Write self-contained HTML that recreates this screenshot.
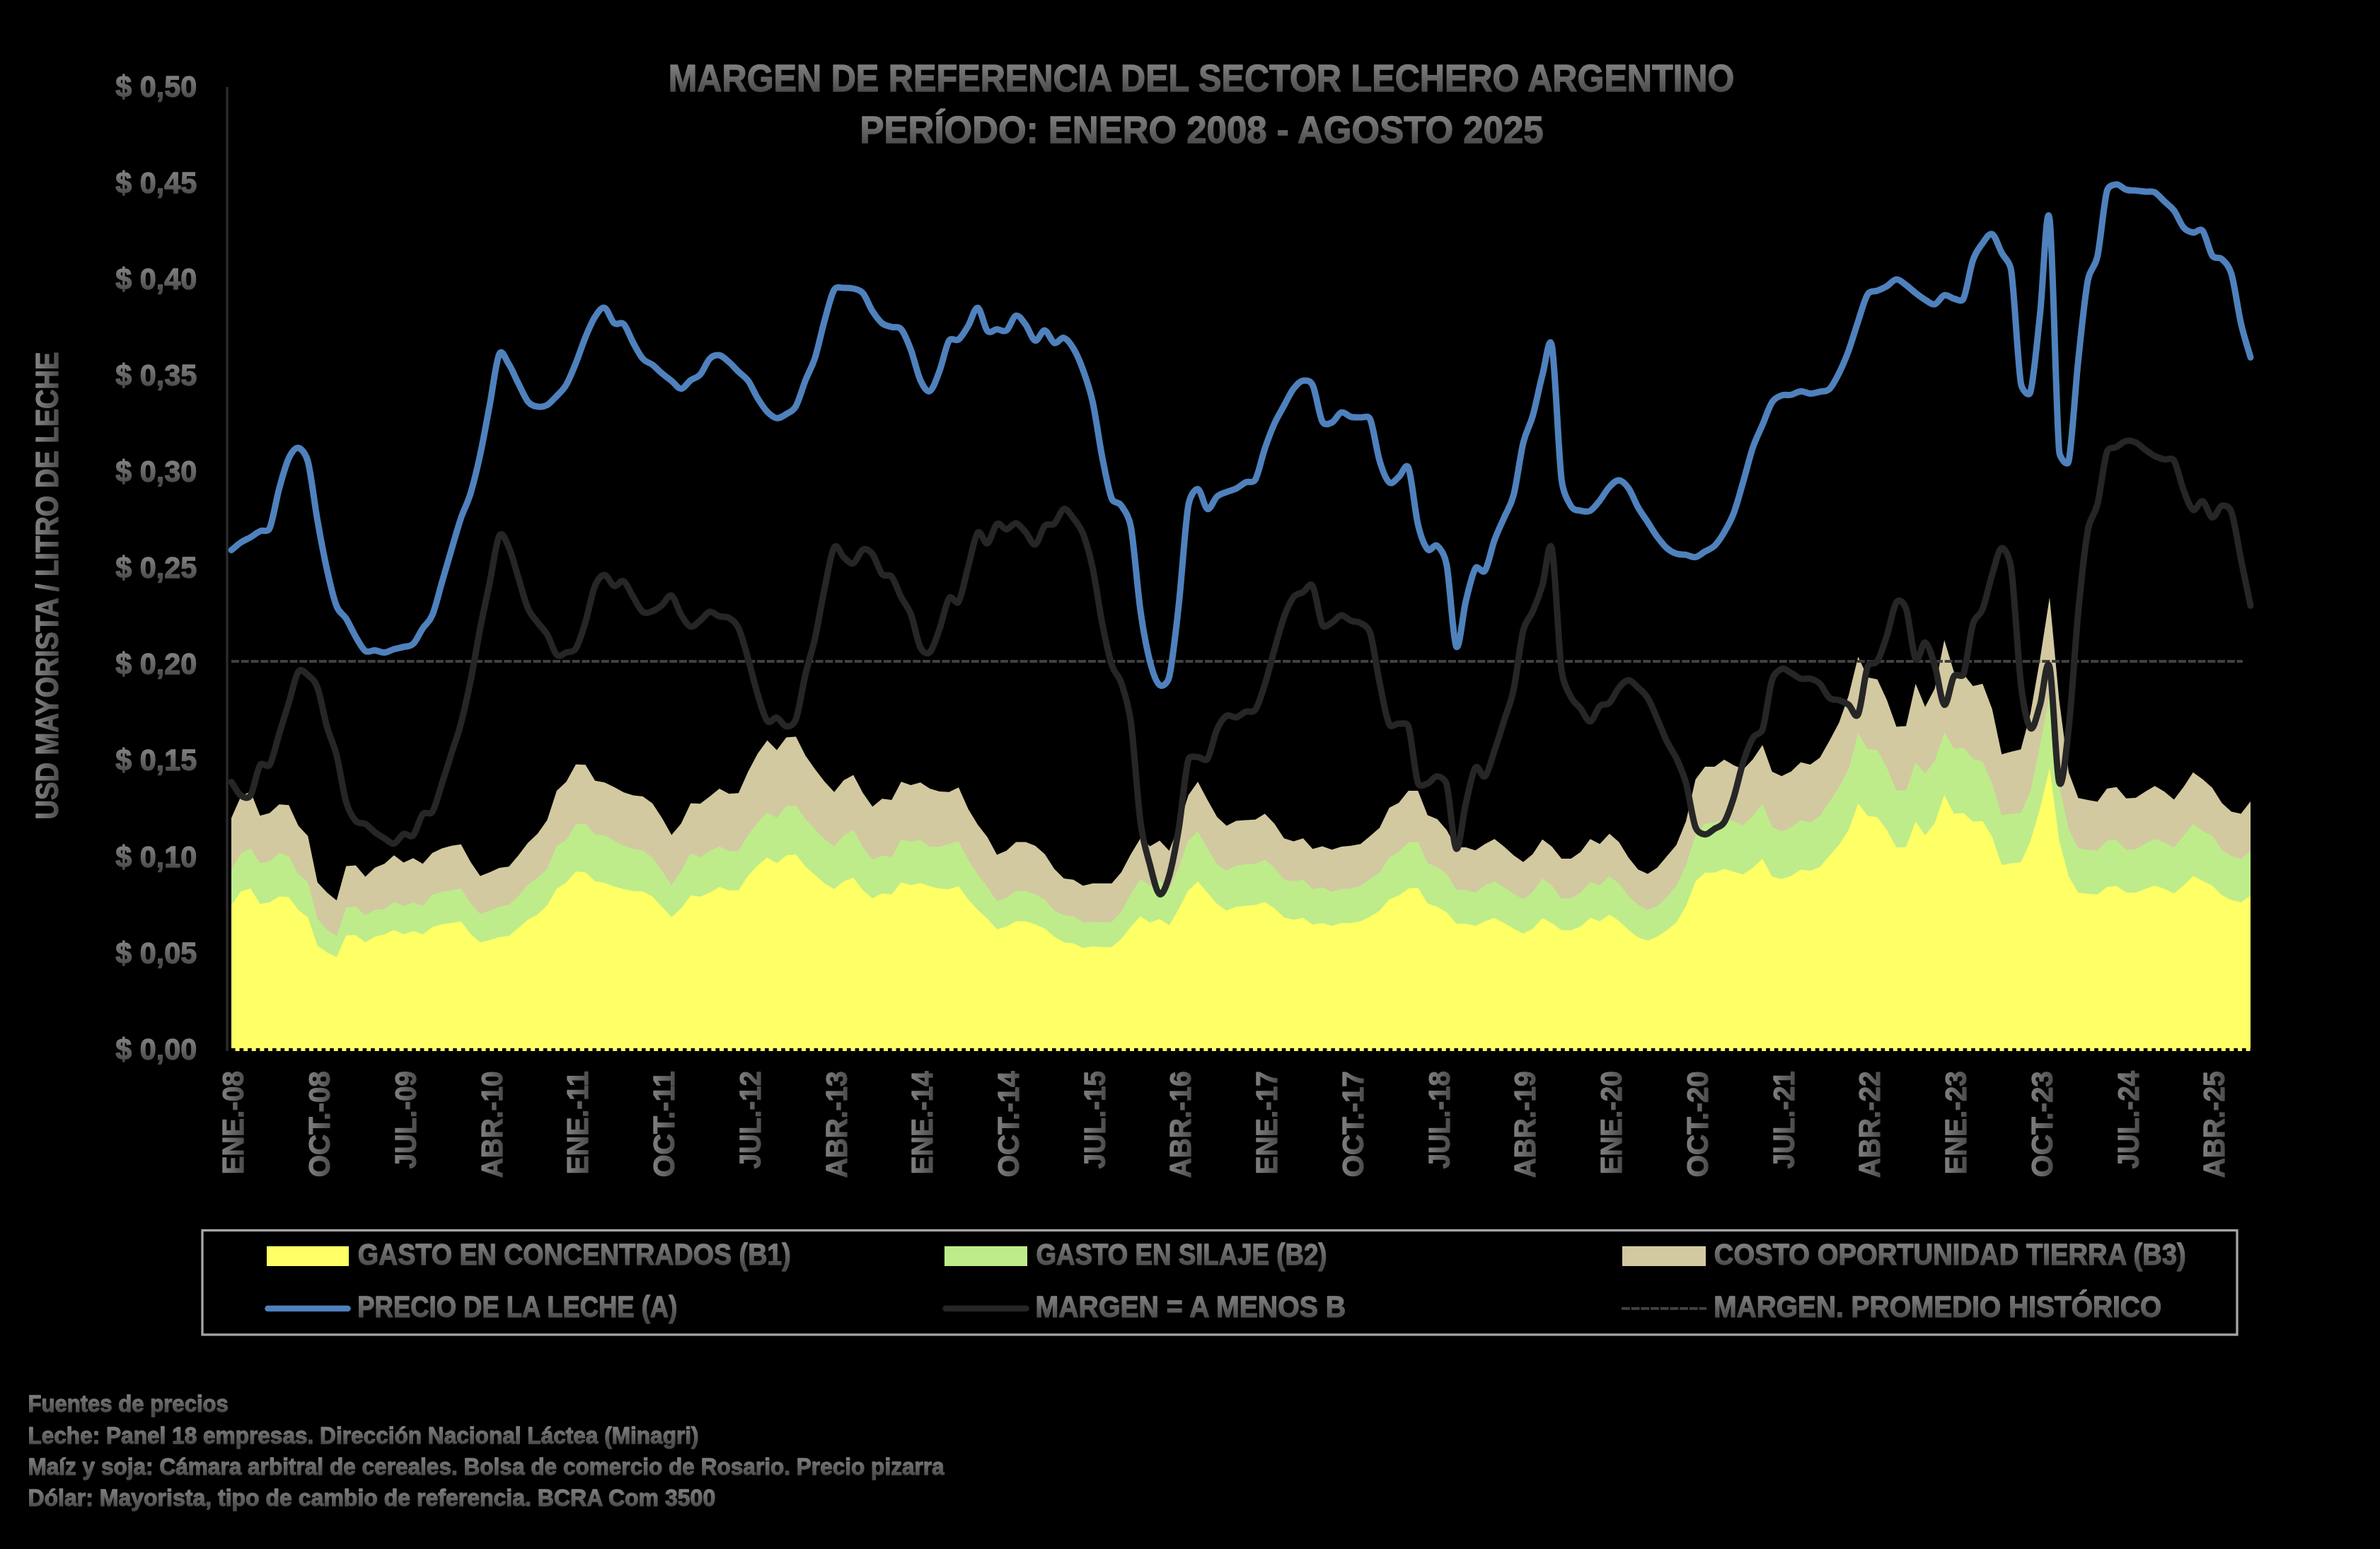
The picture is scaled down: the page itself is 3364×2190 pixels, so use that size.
<!DOCTYPE html>
<html><head><meta charset="utf-8"><title>Margen de referencia del sector lechero argentino</title>
<style>
html,body{margin:0;padding:0;background:#000;}
body{width:3364px;height:2190px;overflow:hidden;font-family:"Liberation Sans",sans-serif;}
svg{display:block;position:absolute;left:0;top:0;will-change:transform;}
text{font-family:"Liberation Sans",sans-serif;font-weight:bold;fill:url(#tg);stroke:url(#tg);stroke-width:1.3px;stroke-linejoin:round;paint-order:stroke;}
</style></head><body>
<svg width="3364" height="2190" viewBox="0 0 3364 2190">
<defs>
<linearGradient id="tg" x1="0" y1="0" x2="0" y2="1"><stop offset="0.18" stop-color="#818181"/><stop offset="0.82" stop-color="#4c4c4c"/></linearGradient>
</defs>
<rect x="0" y="0" width="3364" height="2190" fill="#000"/>

<path d="M327.0,1156.5 L340.5,1126.1 L354.1,1119.1 L367.6,1153.3 L381.1,1149.4 L394.6,1137.3 L408.2,1138.2 L421.7,1167.6 L435.2,1182.0 L448.7,1247.5 L462.3,1261.9 L475.8,1273.1 L489.3,1224.5 L502.8,1223.6 L516.4,1239.5 L529.9,1226.8 L543.4,1221.3 L556.9,1209.2 L570.5,1219.4 L584.0,1213.3 L597.5,1221.3 L611.0,1206.0 L624.6,1199.6 L638.1,1195.8 L651.6,1193.8 L665.2,1218.8 L678.7,1238.6 L692.2,1233.2 L705.7,1227.1 L719.3,1225.2 L732.8,1209.2 L746.3,1191.6 L759.8,1178.8 L773.4,1159.6 L786.9,1118.1 L800.4,1105.3 L813.9,1080.7 L827.5,1081.3 L841.0,1103.7 L854.5,1106.3 L868.0,1112.7 L881.6,1120.3 L895.1,1124.5 L908.6,1126.1 L922.1,1135.7 L935.7,1156.5 L949.2,1180.4 L962.7,1164.4 L976.3,1135.7 L989.8,1136.3 L1003.3,1126.1 L1016.8,1114.9 L1030.4,1122.3 L1043.9,1121.3 L1057.4,1090.9 L1070.9,1065.4 L1084.5,1046.8 L1098.0,1060.6 L1111.5,1042.4 L1125.0,1041.4 L1138.6,1068.6 L1152.1,1087.7 L1165.6,1105.3 L1179.1,1119.7 L1192.7,1103.1 L1206.2,1095.7 L1219.7,1121.3 L1233.2,1140.5 L1246.8,1129.3 L1260.3,1130.9 L1273.8,1105.3 L1287.4,1110.1 L1300.9,1106.3 L1314.4,1114.9 L1327.9,1119.1 L1341.5,1119.7 L1355.0,1113.3 L1368.5,1143.7 L1382.0,1166.0 L1395.6,1183.6 L1409.1,1208.5 L1422.6,1202.8 L1436.1,1190.6 L1449.7,1190.6 L1463.2,1195.8 L1476.7,1207.6 L1490.2,1228.4 L1503.8,1242.1 L1517.3,1243.7 L1530.8,1252.3 L1544.3,1249.1 L1557.9,1249.1 L1571.4,1249.1 L1584.9,1233.2 L1598.5,1207.6 L1612.0,1185.2 L1625.5,1196.4 L1639.0,1188.4 L1652.6,1202.8 L1666.1,1167.6 L1679.6,1124.5 L1693.1,1105.3 L1706.7,1130.9 L1720.2,1154.9 L1733.7,1167.6 L1747.2,1160.6 L1760.8,1159.6 L1774.3,1158.7 L1787.8,1150.5 L1801.3,1164.4 L1814.9,1185.2 L1828.4,1189.4 L1841.9,1185.2 L1855.4,1200.2 L1869.0,1196.4 L1882.5,1201.2 L1896.0,1197.0 L1909.5,1195.8 L1923.1,1193.2 L1936.6,1182.0 L1950.1,1170.2 L1963.7,1142.1 L1977.2,1135.0 L1990.7,1118.1 L2004.2,1118.1 L2017.8,1152.6 L2031.3,1158.0 L2044.8,1173.4 L2058.3,1198.0 L2071.9,1198.0 L2085.4,1202.2 L2098.9,1193.2 L2112.4,1186.2 L2126.0,1197.0 L2139.5,1209.2 L2153.0,1218.8 L2166.5,1207.6 L2180.1,1186.8 L2193.6,1197.0 L2207.1,1214.0 L2220.6,1214.0 L2234.2,1204.4 L2247.7,1186.2 L2261.2,1193.2 L2274.8,1178.8 L2288.3,1190.6 L2301.8,1212.4 L2315.3,1229.3 L2328.9,1235.4 L2342.4,1226.8 L2355.9,1210.8 L2369.4,1194.8 L2383.0,1161.2 L2396.5,1102.1 L2410.0,1083.9 L2423.5,1083.9 L2437.1,1074.0 L2450.6,1082.0 L2464.1,1087.7 L2477.6,1073.4 L2491.2,1053.2 L2504.7,1090.9 L2518.2,1097.3 L2531.7,1090.7 L2545.3,1077.7 L2558.8,1080.9 L2572.3,1071.3 L2585.9,1047.3 L2599.4,1021.8 L2612.9,983.4 L2626.4,928.4 L2640.0,957.8 L2653.5,960.4 L2667.0,989.8 L2680.5,1027.5 L2694.1,1026.6 L2707.6,966.8 L2721.1,999.4 L2734.6,973.8 L2748.2,905.1 L2761.7,949.8 L2775.2,953.0 L2788.7,970.0 L2802.3,966.8 L2815.8,1002.6 L2829.3,1066.5 L2842.8,1062.7 L2856.4,1059.5 L2869.9,1009.0 L2883.4,932.3 L2897.0,844.4 L2910.5,989.8 L2924.0,1092.1 L2937.5,1128.2 L2951.1,1131.1 L2964.6,1133.6 L2978.1,1115.1 L2991.6,1112.8 L3005.2,1128.8 L3018.7,1127.9 L3032.2,1119.2 L3045.7,1111.2 L3059.3,1119.2 L3072.8,1130.4 L3086.3,1112.8 L3099.8,1092.1 L3113.4,1101.7 L3126.9,1113.8 L3140.4,1135.2 L3153.9,1147.4 L3167.5,1150.6 L3181.0,1133.0 L3181.0,1486.0 L327.0,1486.0 Z" fill="#d2c9a1"/>
<path d="M327.0,1230.0 L340.5,1206.6 L354.1,1199.6 L367.6,1220.4 L381.1,1218.1 L394.6,1206.0 L408.2,1210.8 L421.7,1235.4 L435.2,1247.5 L448.7,1299.3 L462.3,1314.7 L475.8,1323.6 L489.3,1283.3 L502.8,1282.1 L516.4,1293.9 L529.9,1286.5 L543.4,1285.2 L556.9,1275.3 L570.5,1281.1 L584.0,1275.7 L597.5,1281.1 L611.0,1265.1 L624.6,1261.0 L638.1,1258.7 L651.6,1256.2 L665.2,1276.9 L678.7,1292.3 L692.2,1287.5 L705.7,1282.1 L719.3,1279.5 L732.8,1266.7 L746.3,1250.7 L759.8,1241.1 L773.4,1228.4 L786.9,1195.8 L800.4,1187.5 L813.9,1165.4 L827.5,1164.4 L841.0,1179.8 L854.5,1181.1 L868.0,1188.4 L881.6,1195.4 L895.1,1200.2 L908.6,1202.2 L922.1,1212.4 L935.7,1231.6 L949.2,1251.4 L962.7,1231.6 L976.3,1206.6 L989.8,1211.7 L1003.3,1202.8 L1016.8,1196.4 L1030.4,1203.4 L1043.9,1203.1 L1057.4,1180.4 L1070.9,1162.8 L1084.5,1148.5 L1098.0,1156.5 L1111.5,1139.5 L1125.0,1138.9 L1138.6,1158.0 L1152.1,1172.4 L1165.6,1186.8 L1179.1,1196.4 L1192.7,1181.1 L1206.2,1173.1 L1219.7,1198.0 L1233.2,1215.6 L1246.8,1209.8 L1260.3,1211.7 L1273.8,1186.8 L1287.4,1190.0 L1300.9,1187.5 L1314.4,1197.4 L1327.9,1197.0 L1341.5,1193.2 L1355.0,1189.4 L1368.5,1215.6 L1382.0,1236.3 L1395.6,1253.9 L1409.1,1274.1 L1422.6,1269.3 L1436.1,1259.4 L1449.7,1259.4 L1463.2,1264.5 L1476.7,1271.5 L1490.2,1287.5 L1503.8,1293.9 L1517.3,1295.5 L1530.8,1304.1 L1544.3,1303.5 L1557.9,1304.1 L1571.4,1303.5 L1584.9,1289.1 L1598.5,1263.5 L1612.0,1242.7 L1625.5,1252.3 L1639.0,1245.0 L1652.6,1257.1 L1666.1,1226.8 L1679.6,1188.4 L1693.1,1175.6 L1706.7,1199.6 L1720.2,1222.0 L1733.7,1230.9 L1747.2,1223.6 L1760.8,1222.0 L1774.3,1221.3 L1787.8,1215.6 L1801.3,1226.8 L1814.9,1243.7 L1828.4,1245.9 L1841.9,1243.7 L1855.4,1257.1 L1869.0,1254.6 L1882.5,1261.0 L1896.0,1257.1 L1909.5,1256.2 L1923.1,1252.3 L1936.6,1242.7 L1950.1,1233.2 L1963.7,1212.4 L1977.2,1204.4 L1990.7,1191.0 L2004.2,1190.0 L2017.8,1220.4 L2031.3,1226.1 L2044.8,1235.4 L2058.3,1258.1 L2071.9,1258.1 L2085.4,1261.9 L2098.9,1251.7 L2112.4,1245.9 L2126.0,1254.6 L2139.5,1263.5 L2153.0,1271.5 L2166.5,1261.0 L2180.1,1242.1 L2193.6,1252.3 L2207.1,1270.5 L2220.6,1269.9 L2234.2,1261.9 L2247.7,1246.9 L2261.2,1251.7 L2274.8,1238.9 L2288.3,1249.1 L2301.8,1266.7 L2315.3,1279.5 L2328.9,1286.8 L2342.4,1281.1 L2355.9,1268.3 L2369.4,1252.3 L2383.0,1223.6 L2396.5,1180.4 L2410.0,1164.4 L2423.5,1163.5 L2437.1,1157.4 L2450.6,1161.2 L2464.1,1166.7 L2477.6,1153.3 L2491.2,1136.3 L2504.7,1169.2 L2518.2,1175.6 L2531.7,1169.8 L2545.3,1159.2 L2558.8,1163.3 L2572.3,1153.4 L2585.9,1133.6 L2599.4,1112.8 L2612.9,1087.3 L2626.4,1037.1 L2640.0,1059.5 L2653.5,1060.1 L2667.0,1085.7 L2680.5,1117.6 L2694.1,1117.6 L2707.6,1077.7 L2721.1,1093.7 L2734.6,1076.1 L2748.2,1035.5 L2761.7,1058.5 L2775.2,1056.9 L2788.7,1072.9 L2802.3,1076.7 L2815.8,1108.0 L2829.3,1152.8 L2842.8,1150.6 L2856.4,1149.0 L2869.9,1119.2 L2883.4,1053.7 L2897.0,983.4 L2910.5,1111.2 L2924.0,1172.0 L2937.5,1199.1 L2951.1,1201.4 L2964.6,1202.3 L2978.1,1188.6 L2991.6,1187.3 L3005.2,1201.7 L3018.7,1200.7 L3032.2,1192.7 L3045.7,1186.3 L3059.3,1191.1 L3072.8,1198.5 L3086.3,1181.6 L3099.8,1164.9 L3113.4,1175.2 L3126.9,1181.6 L3140.4,1201.4 L3153.9,1210.3 L3167.5,1214.5 L3181.0,1203.3 L3181.0,1486.0 L327.0,1486.0 Z" fill="#beec8a"/>
<path d="M327.0,1280.1 L340.5,1260.3 L354.1,1256.2 L367.6,1277.9 L381.1,1275.7 L394.6,1267.4 L408.2,1268.3 L421.7,1286.5 L435.2,1297.1 L448.7,1337.0 L462.3,1346.6 L475.8,1353.0 L489.3,1322.6 L502.8,1322.0 L516.4,1332.2 L529.9,1324.2 L543.4,1321.0 L556.9,1314.7 L570.5,1321.0 L584.0,1316.2 L597.5,1321.0 L611.0,1310.8 L624.6,1306.7 L638.1,1305.1 L651.6,1302.8 L665.2,1320.4 L678.7,1332.2 L692.2,1329.0 L705.7,1324.9 L719.3,1323.3 L732.8,1312.1 L746.3,1300.3 L759.8,1292.9 L773.4,1280.1 L786.9,1256.5 L800.4,1247.5 L813.9,1232.2 L827.5,1233.2 L841.0,1245.9 L854.5,1248.2 L868.0,1253.3 L881.6,1257.1 L895.1,1259.7 L908.6,1260.3 L922.1,1267.4 L935.7,1282.1 L949.2,1296.4 L962.7,1284.3 L976.3,1266.1 L989.8,1267.7 L1003.3,1261.9 L1016.8,1253.9 L1030.4,1258.7 L1043.9,1258.7 L1057.4,1237.9 L1070.9,1223.6 L1084.5,1212.4 L1098.0,1220.4 L1111.5,1209.2 L1125.0,1208.2 L1138.6,1225.2 L1152.1,1237.3 L1165.6,1249.1 L1179.1,1257.1 L1192.7,1245.9 L1206.2,1241.1 L1219.7,1258.7 L1233.2,1269.9 L1246.8,1262.9 L1260.3,1264.5 L1273.8,1247.5 L1287.4,1251.4 L1300.9,1248.5 L1314.4,1253.0 L1327.9,1256.2 L1341.5,1257.1 L1355.0,1253.0 L1368.5,1271.5 L1382.0,1286.5 L1395.6,1298.7 L1409.1,1313.7 L1422.6,1309.9 L1436.1,1302.5 L1449.7,1302.5 L1463.2,1306.7 L1476.7,1313.1 L1490.2,1324.2 L1503.8,1332.2 L1517.3,1333.8 L1530.8,1340.2 L1544.3,1338.0 L1557.9,1338.9 L1571.4,1338.9 L1584.9,1327.4 L1598.5,1309.9 L1612.0,1295.5 L1625.5,1304.4 L1639.0,1299.3 L1652.6,1308.3 L1666.1,1285.2 L1679.6,1258.7 L1693.1,1246.6 L1706.7,1261.9 L1720.2,1277.9 L1733.7,1287.5 L1747.2,1282.1 L1760.8,1280.5 L1774.3,1279.5 L1787.8,1275.3 L1801.3,1284.3 L1814.9,1297.1 L1828.4,1300.3 L1841.9,1297.7 L1855.4,1307.3 L1869.0,1305.1 L1882.5,1308.9 L1896.0,1305.1 L1909.5,1305.1 L1923.1,1302.5 L1936.6,1296.1 L1950.1,1287.5 L1963.7,1271.5 L1977.2,1266.1 L1990.7,1256.2 L2004.2,1254.9 L2017.8,1277.3 L2031.3,1282.1 L2044.8,1289.7 L2058.3,1305.7 L2071.9,1306.0 L2085.4,1308.9 L2098.9,1302.5 L2112.4,1298.0 L2126.0,1305.1 L2139.5,1313.1 L2153.0,1320.1 L2166.5,1313.1 L2180.1,1298.0 L2193.6,1305.1 L2207.1,1315.3 L2220.6,1315.3 L2234.2,1309.9 L2247.7,1297.7 L2261.2,1302.5 L2274.8,1292.9 L2288.3,1301.9 L2301.8,1314.7 L2315.3,1325.2 L2328.9,1329.7 L2342.4,1324.2 L2355.9,1315.3 L2369.4,1304.4 L2383.0,1281.1 L2396.5,1245.9 L2410.0,1233.8 L2423.5,1233.8 L2437.1,1228.4 L2450.6,1232.5 L2464.1,1236.3 L2477.6,1226.8 L2491.2,1214.0 L2504.7,1239.5 L2518.2,1242.7 L2531.7,1238.5 L2545.3,1229.5 L2558.8,1231.1 L2572.3,1225.7 L2585.9,1209.7 L2599.4,1194.3 L2612.9,1173.6 L2626.4,1136.2 L2640.0,1153.4 L2653.5,1155.3 L2667.0,1173.6 L2680.5,1198.2 L2694.1,1197.5 L2707.6,1161.4 L2721.1,1180.9 L2734.6,1164.0 L2748.2,1124.0 L2761.7,1150.6 L2775.2,1149.6 L2788.7,1161.7 L2802.3,1160.8 L2815.8,1183.2 L2829.3,1223.1 L2842.8,1220.5 L2856.4,1218.9 L2869.9,1189.5 L2883.4,1143.2 L2897.0,1085.7 L2910.5,1187.9 L2924.0,1239.1 L2937.5,1262.1 L2951.1,1263.7 L2964.6,1264.7 L2978.1,1254.1 L2991.6,1252.5 L3005.2,1262.1 L3018.7,1262.1 L3032.2,1256.7 L3045.7,1251.9 L3059.3,1256.7 L3072.8,1263.1 L3086.3,1251.9 L3099.8,1238.4 L3113.4,1245.5 L3126.9,1251.9 L3140.4,1265.6 L3153.9,1272.6 L3167.5,1275.8 L3181.0,1266.2 L3181.0,1486.0 L327.0,1486.0 Z" fill="#ffff66"/>
<line x1="327" y1="1484" x2="3181" y2="1484" stroke="#000" stroke-width="4" stroke-dasharray="5.6 6"/>
<line x1="321" y1="123" x2="321" y2="1486" stroke="#2b2b2b" stroke-width="3.4"/>
<line x1="327" y1="935.0" x2="3170" y2="935.0" stroke="#404040" stroke-width="4" stroke-dasharray="11 2.76"/>
<path d="M327.0,777.8 C331.5,774.2 336.0,770.0 340.5,766.9 C345.0,763.9 349.5,762.2 354.1,759.6 C358.6,756.9 363.1,753.1 367.6,751.0 C372.1,748.8 378.2,753.3 381.1,746.8 C385.6,736.8 390.1,707.4 394.6,690.9 C399.1,674.4 403.6,657.3 408.2,647.7 C412.4,638.8 417.2,632.5 421.7,633.3 C426.2,634.1 432.2,641.2 435.2,652.5 C439.7,669.6 444.2,710.0 448.7,735.6 C453.2,761.2 457.8,785.7 462.3,805.9 C466.8,826.2 471.3,845.6 475.8,857.1 C479.8,867.4 484.8,867.4 489.3,874.6 C493.8,881.8 498.3,892.6 502.8,900.2 C507.3,907.8 511.9,917.1 516.4,920.3 C520.9,923.5 525.4,919.0 529.9,919.4 C534.4,919.8 538.9,922.8 543.4,922.6 C547.9,922.3 552.4,919.1 556.9,917.8 C561.5,916.5 566.0,915.8 570.5,914.6 C575.0,913.4 579.5,914.8 584.0,910.4 C588.5,906.1 593.0,895.1 597.5,888.4 C602.0,881.6 606.6,880.4 611.0,869.8 C615.6,859.0 620.1,839.0 624.6,823.5 C629.1,808.1 633.6,792.3 638.1,777.2 C642.6,762.0 647.1,745.7 651.6,732.4 C656.1,719.1 660.6,712.2 665.2,697.3 C669.7,682.4 674.2,663.7 678.7,642.9 C683.2,622.2 687.7,596.3 692.2,572.6 C696.7,548.9 701.2,510.3 705.7,500.7 C709.9,491.8 714.7,508.2 719.3,515.1 C723.8,522.0 728.3,533.5 732.8,542.3 C737.3,551.0 741.8,562.4 746.3,567.8 C750.8,573.3 755.3,574.1 759.8,574.9 C764.3,575.7 768.9,575.1 773.4,572.6 C777.9,570.1 782.4,564.6 786.9,559.8 C791.4,555.0 795.9,551.6 800.4,543.9 C804.9,536.1 809.4,524.7 813.9,513.5 C818.4,502.3 823.0,487.7 827.5,476.7 C832.0,465.8 836.5,454.9 841.0,448.0 C845.5,441.1 850.0,433.7 854.5,435.2 C859.0,436.7 863.5,453.1 868.0,456.9 C872.6,460.8 877.1,453.6 881.6,458.2 C886.1,462.8 890.6,476.6 895.1,484.7 C899.6,492.9 904.1,501.9 908.6,507.1 C913.1,512.3 917.6,512.3 922.1,515.7 C926.7,519.2 931.2,524.1 935.7,527.9 C940.2,531.7 944.7,534.8 949.2,538.4 C953.7,542.0 958.2,549.8 962.7,549.6 C967.2,549.5 971.7,540.8 976.3,537.5 C980.8,534.1 985.3,534.5 989.8,529.5 C994.3,524.4 998.8,511.6 1003.3,507.1 C1007.8,502.6 1012.3,501.5 1016.8,502.3 C1021.3,503.1 1025.8,508.0 1030.4,511.9 C1034.9,515.8 1039.4,521.1 1043.9,525.5 C1048.4,529.9 1052.9,532.0 1057.4,538.2 C1061.9,544.5 1066.4,555.7 1070.9,563.0 C1075.4,570.3 1080.0,577.5 1084.5,582.2 C1089.0,586.9 1093.5,590.6 1098.0,591.1 C1102.5,591.7 1107.0,588.2 1111.5,585.4 C1116.0,582.5 1120.7,581.8 1125.0,574.2 C1129.5,566.2 1134.1,548.9 1138.6,537.4 C1143.1,526.0 1147.6,519.6 1152.1,505.5 C1156.6,491.4 1161.1,468.7 1165.6,452.7 C1170.1,436.8 1174.6,417.2 1179.1,409.6 C1182.6,403.7 1188.2,407.3 1192.7,407.0 C1197.2,406.8 1201.7,406.8 1206.2,408.0 C1210.7,409.2 1215.2,409.1 1219.7,414.4 C1224.2,419.7 1228.7,432.9 1233.2,439.9 C1237.8,447.0 1242.3,453.2 1246.8,456.9 C1251.3,460.6 1255.8,460.9 1260.3,462.3 C1264.8,463.8 1269.3,460.2 1273.8,465.5 C1278.3,470.8 1282.8,482.3 1287.4,494.3 C1291.9,506.3 1296.4,527.7 1300.9,537.4 C1305.2,546.7 1309.9,554.9 1314.4,552.8 C1318.9,550.6 1323.4,536.5 1327.9,524.6 C1332.4,512.8 1336.9,489.0 1341.5,481.5 C1345.0,475.7 1350.5,483.4 1355.0,479.9 C1359.5,476.4 1364.0,468.2 1368.5,460.7 C1373.0,453.3 1377.5,434.0 1382.0,435.2 C1386.5,436.3 1391.1,462.7 1395.6,467.8 C1400.1,472.8 1404.6,465.6 1409.1,465.5 C1413.6,465.4 1418.1,470.3 1422.6,467.1 C1427.1,463.9 1431.6,447.7 1436.1,446.3 C1440.6,445.0 1445.2,453.3 1449.7,459.1 C1454.2,465.0 1458.7,480.2 1463.2,481.5 C1467.7,482.8 1472.2,466.6 1476.7,467.1 C1481.2,467.6 1485.7,482.9 1490.2,484.7 C1494.8,486.5 1499.3,476.3 1503.8,477.7 C1508.3,479.0 1512.8,485.1 1517.3,492.7 C1521.8,500.2 1526.3,510.5 1530.8,523.0 C1535.3,535.6 1539.8,547.3 1544.3,567.8 C1548.9,588.3 1553.4,623.2 1557.9,646.1 C1562.4,669.0 1566.9,693.8 1571.4,705.2 C1574.4,712.9 1580.4,708.1 1584.9,714.8 C1589.4,721.5 1595.5,728.8 1598.5,745.2 C1603.0,769.9 1607.5,831.7 1612.0,863.4 C1616.5,895.1 1621.0,918.0 1625.5,935.5 C1629.9,952.8 1634.5,964.9 1639.0,968.5 C1643.5,972.0 1650.5,965.6 1652.6,957.0 C1657.1,938.1 1661.6,895.6 1666.1,855.2 C1670.6,814.8 1675.1,742.1 1679.6,714.8 C1681.8,701.5 1688.6,690.7 1693.1,691.5 C1697.6,692.3 1702.2,717.8 1706.7,719.6 C1711.2,721.4 1715.7,706.0 1720.2,702.0 C1724.7,698.0 1729.2,697.5 1733.7,695.6 C1738.2,693.8 1742.7,693.1 1747.2,690.8 C1751.7,688.5 1756.3,684.0 1760.8,681.9 C1765.3,679.8 1770.8,684.2 1774.3,678.0 C1778.8,670.1 1783.3,647.4 1787.8,634.2 C1792.3,621.0 1796.8,609.1 1801.3,599.0 C1805.8,588.9 1810.4,581.7 1814.9,573.5 C1819.4,565.2 1823.9,555.3 1828.4,549.5 C1832.9,543.6 1837.4,539.1 1841.9,538.3 C1846.4,537.5 1852.3,537.9 1855.4,544.7 C1860.0,554.3 1864.5,587.0 1869.0,595.8 C1872.1,601.9 1878.0,599.6 1882.5,597.4 C1887.0,595.3 1891.5,584.4 1896.0,583.0 C1900.5,581.7 1905.0,588.3 1909.5,589.4 C1914.1,590.6 1918.6,589.5 1923.1,590.1 C1927.6,590.6 1933.8,586.3 1936.6,592.6 C1941.1,602.9 1945.6,636.8 1950.1,651.8 C1954.6,666.7 1959.1,678.4 1963.7,682.1 C1968.2,685.8 1972.7,677.6 1977.2,674.1 C1981.7,670.7 1987.2,652.7 1990.7,661.3 C1995.2,672.5 1999.7,722.1 2004.2,741.2 C2008.5,759.6 2013.2,771.3 2017.8,776.4 C2022.3,781.5 2026.8,767.9 2031.3,771.6 C2035.8,775.3 2042.0,783.9 2044.8,798.8 C2049.3,822.5 2053.8,905.3 2058.3,913.8 C2062.8,922.3 2067.4,868.3 2071.9,849.9 C2076.4,831.5 2080.9,810.8 2085.4,803.6 C2089.1,797.7 2095.0,812.5 2098.9,806.8 C2103.4,800.1 2107.9,776.1 2112.4,763.6 C2116.9,751.1 2121.5,742.3 2126.0,731.7 C2130.5,721.0 2135.2,716.5 2139.5,699.7 C2144.0,682.1 2148.5,644.8 2153.0,626.2 C2157.5,607.5 2162.0,603.8 2166.5,587.8 C2171.1,571.9 2175.6,546.7 2180.1,530.3 C2184.6,513.9 2189.7,468.2 2193.6,489.4 C2198.1,513.9 2202.6,639.6 2207.1,677.3 C2209.5,697.5 2216.1,708.2 2220.6,715.7 C2224.5,722.1 2229.7,721.0 2234.2,722.1 C2238.7,723.1 2243.2,724.5 2247.7,722.1 C2252.2,719.7 2256.7,713.3 2261.2,707.7 C2265.7,702.1 2270.2,693.3 2274.8,688.5 C2279.3,683.7 2283.8,678.7 2288.3,678.9 C2292.8,679.2 2297.3,683.7 2301.8,690.1 C2306.3,696.5 2310.8,709.3 2315.3,717.3 C2319.8,725.3 2324.3,731.1 2328.9,738.0 C2333.4,745.0 2337.9,752.7 2342.4,758.8 C2346.9,764.9 2351.4,770.8 2355.9,774.8 C2360.4,778.8 2364.9,781.2 2369.4,782.8 C2373.9,784.4 2378.5,783.6 2383.0,784.4 C2387.5,785.2 2392.0,788.4 2396.5,787.6 C2401.0,786.8 2405.5,782.3 2410.0,779.6 C2414.5,776.9 2419.0,776.1 2423.5,771.6 C2428.0,767.1 2432.6,760.2 2437.1,752.4 C2441.6,744.7 2446.1,737.2 2450.6,725.3 C2455.1,713.3 2459.6,696.0 2464.1,680.5 C2468.6,665.1 2473.1,645.9 2477.6,632.6 C2482.2,619.3 2486.7,611.3 2491.2,600.6 C2495.7,590.0 2500.2,575.6 2504.7,568.7 C2509.2,561.7 2513.7,560.8 2518.2,559.1 C2522.7,557.3 2527.2,559.2 2531.7,558.2 C2536.3,557.2 2540.8,553.5 2545.3,553.2 C2549.8,552.9 2554.3,556.3 2558.8,556.4 C2563.3,556.5 2567.8,554.9 2572.3,553.8 C2576.8,552.8 2581.3,554.4 2585.9,550.0 C2590.4,545.6 2594.9,536.7 2599.4,527.6 C2603.9,518.6 2608.4,507.9 2612.9,495.7 C2617.4,483.4 2621.9,467.4 2626.4,454.1 C2630.9,440.8 2635.4,423.0 2640.0,415.8 C2643.8,409.7 2649.0,412.8 2653.5,411.0 C2658.0,409.1 2662.5,407.3 2667.0,404.6 C2671.5,401.9 2676.0,395.3 2680.5,395.0 C2685.0,394.7 2689.6,399.8 2694.1,403.0 C2698.6,406.2 2703.1,410.7 2707.6,414.2 C2712.1,417.6 2716.6,421.1 2721.1,423.8 C2725.6,426.4 2730.1,431.2 2734.6,430.2 C2739.1,429.1 2743.7,418.7 2748.2,417.4 C2752.7,416.0 2757.2,421.4 2761.7,422.2 C2766.2,423.0 2772.2,428.2 2775.2,422.2 C2779.7,413.1 2784.2,380.9 2788.7,367.8 C2793.2,354.8 2797.8,350.0 2802.3,343.9 C2806.8,337.7 2811.3,328.8 2815.8,331.1 C2820.3,333.3 2824.8,348.7 2829.3,357.4 C2833.8,366.1 2840.7,368.8 2842.8,383.2 C2847.4,414.0 2851.9,513.4 2856.4,541.9 C2857.8,550.9 2867.4,563.0 2869.9,554.2 C2874.4,538.1 2878.9,486.0 2883.4,445.3 C2887.9,404.5 2892.4,277.7 2897.0,309.7 C2901.5,341.8 2906.0,580.7 2910.5,637.7 C2911.3,647.5 2922.0,661.5 2924.0,651.9 C2928.5,630.5 2933.0,552.1 2937.5,509.5 C2942.0,466.9 2946.5,420.8 2951.1,396.3 C2954.3,378.4 2960.8,380.3 2964.6,362.5 C2969.1,341.5 2973.6,286.9 2978.1,270.0 C2980.2,262.1 2987.1,261.1 2991.6,260.8 C2996.1,260.5 3000.7,266.7 3005.2,268.1 C3009.7,269.6 3014.2,268.9 3018.7,269.4 C3023.2,269.9 3027.7,270.6 3032.2,271.0 C3036.7,271.4 3041.2,269.7 3045.7,272.0 C3050.2,274.3 3054.8,280.5 3059.3,284.7 C3063.8,289.0 3068.3,291.4 3072.8,297.5 C3077.3,303.7 3081.8,316.3 3086.3,321.5 C3090.8,326.7 3095.3,328.0 3099.8,328.8 C3104.4,329.6 3109.0,321.0 3113.4,326.3 C3117.9,331.7 3122.4,354.8 3126.9,361.4 C3130.9,367.4 3135.9,362.0 3140.4,366.2 C3144.9,370.5 3150.4,375.1 3153.9,387.0 C3158.5,402.2 3163.0,437.6 3167.5,457.3 C3172.0,477.0 3176.5,489.3 3181.0,505.3" fill="none" stroke="#4f81bd" stroke-width="9" stroke-linecap="round" stroke-linejoin="round"/>
<path d="M327.0,1105.4 C331.5,1111.9 336.0,1121.7 340.5,1124.8 C345.0,1128.0 350.5,1130.3 354.1,1124.5 C358.6,1117.3 363.1,1088.9 367.6,1081.7 C371.2,1076.0 377.6,1087.1 381.1,1081.4 C385.6,1074.0 390.1,1052.2 394.6,1037.6 C399.1,1022.9 403.6,1008.1 408.2,993.5 C412.7,978.8 417.2,956.2 421.7,949.7 C425.8,943.8 430.7,950.8 435.2,954.5 C439.7,958.2 444.9,961.7 448.7,972.1 C453.2,984.3 457.8,1012.0 462.3,1028.0 C466.8,1044.0 471.3,1050.3 475.8,1068.0 C480.3,1085.6 484.8,1118.7 489.3,1134.1 C493.5,1148.4 498.3,1155.5 502.8,1160.6 C507.3,1165.8 511.9,1162.1 516.4,1164.8 C520.9,1167.5 525.4,1173.2 529.9,1176.6 C534.4,1180.0 538.9,1182.6 543.4,1185.3 C547.9,1187.9 552.4,1193.6 556.9,1192.6 C561.5,1191.6 566.0,1181.1 570.5,1179.2 C575.0,1177.3 579.5,1185.8 584.0,1181.1 C588.5,1176.4 593.0,1156.6 597.5,1151.1 C601.9,1145.7 607.4,1153.7 611.0,1147.9 C615.6,1140.7 620.1,1121.7 624.6,1107.9 C629.1,1094.2 633.6,1079.6 638.1,1065.4 C642.6,1051.2 647.1,1039.7 651.6,1022.6 C656.1,1005.4 660.6,984.9 665.2,962.5 C669.7,940.1 674.2,911.5 678.7,888.3 C683.2,865.2 687.7,845.3 692.2,823.5 C696.7,801.7 701.2,765.9 705.7,757.6 C710.2,749.4 714.9,764.3 719.3,773.9 C723.8,783.8 728.3,802.7 732.8,817.1 C737.3,831.5 741.8,849.7 746.3,860.2 C750.8,870.7 755.3,873.9 759.8,880.0 C764.3,886.2 768.9,889.4 773.4,897.0 C777.9,904.6 782.4,921.5 786.9,925.7 C791.4,930.0 795.9,924.0 800.4,922.5 C804.9,921.1 810.0,923.0 813.9,916.8 C818.4,909.6 823.0,894.2 827.5,879.4 C832.0,864.6 836.5,839.3 841.0,828.3 C844.8,818.8 850.0,812.9 854.5,812.9 C859.0,812.9 863.5,826.8 868.0,828.3 C872.6,829.8 877.1,819.2 881.6,821.9 C886.1,824.5 890.6,837.1 895.1,844.2 C899.6,851.4 904.1,861.7 908.6,865.0 C913.1,868.3 917.6,865.7 922.1,864.1 C926.7,862.5 931.2,859.1 935.7,855.4 C940.2,851.8 944.7,839.7 949.2,842.0 C953.7,844.3 958.2,861.9 962.7,869.2 C967.2,876.5 971.7,884.5 976.3,885.8 C980.8,887.1 985.3,880.6 989.8,877.2 C994.3,873.7 998.8,866.0 1003.3,865.0 C1007.8,864.1 1012.3,870.0 1016.8,871.4 C1021.3,872.8 1025.8,870.9 1030.4,873.6 C1034.9,876.4 1039.7,879.2 1043.9,888.2 C1048.4,897.8 1052.9,915.7 1057.4,931.3 C1061.9,946.9 1066.4,967.0 1070.9,981.6 C1075.4,996.3 1080.0,1013.9 1084.5,1019.3 C1089.0,1024.8 1093.5,1013.3 1098.0,1014.5 C1102.5,1015.8 1107.0,1026.6 1111.5,1027.0 C1116.0,1027.4 1122.1,1024.7 1125.0,1016.8 C1129.5,1004.4 1134.1,972.0 1138.6,952.9 C1143.1,933.7 1147.6,922.0 1152.1,901.7 C1156.6,881.5 1161.1,852.7 1165.6,831.4 C1170.1,810.1 1174.6,781.1 1179.1,773.9 C1183.7,766.6 1188.2,784.2 1192.7,788.0 C1197.2,791.7 1201.7,798.1 1206.2,796.3 C1210.7,794.5 1215.2,779.2 1219.7,777.1 C1224.2,775.0 1228.7,777.7 1233.2,783.5 C1237.8,789.2 1242.3,806.3 1246.8,811.6 C1251.3,816.9 1255.8,810.0 1260.3,815.4 C1264.8,820.9 1269.3,835.4 1273.8,844.2 C1278.3,853.0 1282.8,856.3 1287.4,868.2 C1291.9,880.0 1296.4,906.2 1300.9,915.2 C1304.3,921.9 1309.9,926.1 1314.4,921.9 C1318.9,917.6 1323.4,902.3 1327.9,889.6 C1332.4,876.9 1336.9,852.3 1341.5,845.8 C1345.5,839.9 1351.3,856.7 1355.0,850.6 C1359.5,843.1 1364.0,817.3 1368.5,801.1 C1373.0,784.8 1377.5,758.6 1382.0,753.1 C1386.5,747.6 1391.1,770.2 1395.6,768.1 C1400.1,766.1 1404.6,744.3 1409.1,741.0 C1413.6,737.7 1418.1,748.5 1422.6,748.3 C1427.1,748.1 1431.6,739.0 1436.1,739.7 C1440.6,740.4 1445.2,747.5 1449.7,752.5 C1454.2,757.5 1458.7,771.2 1463.2,769.7 C1467.7,768.2 1472.2,748.4 1476.7,743.5 C1481.2,738.6 1485.7,744.3 1490.2,740.3 C1494.8,736.3 1499.3,720.8 1503.8,719.6 C1508.3,718.3 1512.8,727.1 1517.3,733.0 C1521.8,738.8 1526.3,743.1 1530.8,754.7 C1535.3,766.3 1539.8,781.6 1544.3,802.7 C1548.9,823.7 1553.4,858.1 1557.9,881.0 C1562.4,903.9 1566.9,926.0 1571.4,940.1 C1575.8,953.9 1580.4,952.1 1584.9,965.6 C1589.4,979.2 1594.5,993.1 1598.5,1021.6 C1603.0,1054.3 1607.5,1128.6 1612.0,1162.2 C1616.1,1193.1 1621.0,1206.1 1625.5,1223.1 C1630.0,1240.1 1634.5,1261.5 1639.0,1264.0 C1643.5,1266.6 1648.5,1252.2 1652.6,1238.2 C1657.1,1222.8 1661.6,1198.9 1666.1,1171.6 C1670.6,1144.3 1675.1,1091.2 1679.6,1074.3 C1681.4,1067.5 1688.6,1070.4 1693.1,1070.2 C1697.6,1069.9 1702.7,1078.4 1706.7,1072.7 C1711.2,1066.2 1715.7,1041.3 1720.2,1031.2 C1724.7,1021.0 1729.2,1014.8 1733.7,1012.0 C1738.2,1009.2 1742.7,1015.2 1747.2,1014.2 C1751.7,1013.3 1756.3,1008.0 1760.8,1006.2 C1765.3,1004.4 1770.3,1009.0 1774.3,1003.4 C1778.8,996.9 1783.3,981.8 1787.8,967.6 C1792.3,953.5 1796.8,934.5 1801.3,918.6 C1805.8,902.7 1810.4,884.7 1814.9,872.2 C1819.4,859.8 1823.9,850.0 1828.4,844.1 C1832.9,838.3 1837.4,839.7 1841.9,837.1 C1846.4,834.5 1851.4,821.5 1855.4,828.5 C1860.0,836.2 1864.5,874.8 1869.0,883.4 C1872.2,889.6 1878.0,882.5 1882.5,880.2 C1887.0,878.0 1891.5,870.4 1896.0,870.0 C1900.5,869.6 1905.0,875.9 1909.5,877.7 C1914.1,879.5 1918.6,878.0 1923.1,880.9 C1927.6,883.7 1933.7,885.4 1936.6,894.6 C1941.1,908.7 1945.6,944.0 1950.1,965.6 C1954.6,987.1 1959.1,1014.5 1963.7,1024.1 C1966.5,1030.2 1972.7,1022.6 1977.2,1023.1 C1981.7,1023.6 1988.5,1020.5 1990.7,1027.2 C1995.2,1041.3 1999.7,1093.7 2004.2,1107.1 C2006.4,1113.6 2013.2,1109.4 2017.8,1107.8 C2022.3,1106.2 2026.8,1097.3 2031.3,1097.6 C2035.8,1097.8 2042.5,1100.7 2044.8,1109.4 C2049.3,1126.4 2053.8,1195.4 2058.3,1199.8 C2062.8,1204.2 2067.4,1155.0 2071.9,1135.9 C2076.4,1116.8 2080.9,1091.8 2085.4,1085.4 C2089.9,1079.0 2094.4,1101.6 2098.9,1097.6 C2103.4,1093.6 2107.9,1074.6 2112.4,1061.4 C2116.9,1048.3 2121.5,1033.1 2126.0,1018.6 C2130.5,1004.1 2135.0,995.7 2139.5,974.5 C2144.0,953.3 2148.5,909.8 2153.0,891.4 C2156.6,876.7 2162.0,874.9 2166.5,864.3 C2171.1,853.6 2175.6,842.2 2180.1,827.5 C2184.6,812.8 2189.1,756.4 2193.6,776.3 C2198.1,796.3 2202.6,912.5 2207.1,947.3 C2209.7,967.5 2216.1,976.6 2220.6,985.7 C2225.2,994.8 2229.7,996.0 2234.2,1001.7 C2238.7,1007.4 2243.2,1020.4 2247.7,1019.9 C2252.2,1019.4 2256.7,1002.9 2261.2,998.5 C2265.7,994.1 2270.2,998.1 2274.8,993.7 C2279.3,989.3 2283.8,977.6 2288.3,972.3 C2292.8,966.9 2297.3,961.8 2301.8,961.7 C2306.3,961.7 2310.8,967.8 2315.3,972.0 C2319.8,976.1 2324.3,979.3 2328.9,986.7 C2333.4,994.0 2337.9,1005.8 2342.4,1016.1 C2346.9,1026.3 2351.4,1038.7 2355.9,1048.0 C2360.4,1057.3 2364.9,1062.1 2369.4,1072.0 C2373.9,1081.8 2378.5,1090.9 2383.0,1107.1 C2387.5,1123.4 2392.0,1157.4 2396.5,1169.5 C2399.5,1177.4 2405.5,1179.3 2410.0,1179.7 C2414.5,1180.1 2419.0,1174.6 2423.5,1171.7 C2428.0,1168.8 2432.8,1169.4 2437.1,1162.4 C2441.6,1155.0 2446.1,1141.6 2450.6,1127.3 C2455.1,1113.0 2459.6,1090.8 2464.1,1076.8 C2468.6,1062.8 2473.1,1050.8 2477.6,1043.2 C2482.2,1035.7 2488.3,1039.9 2491.2,1031.4 C2495.7,1017.8 2500.2,976.0 2504.7,961.7 C2507.8,951.7 2513.7,947.5 2518.2,945.7 C2522.7,944.0 2527.2,949.2 2531.7,951.5 C2536.3,953.8 2540.8,958.2 2545.3,959.5 C2549.8,960.9 2554.3,958.3 2558.8,959.5 C2563.3,960.7 2567.8,962.0 2572.3,966.5 C2576.8,971.1 2581.3,982.8 2585.9,986.7 C2590.4,990.6 2594.9,988.3 2599.4,989.9 C2603.9,991.5 2608.4,993.0 2612.9,996.3 C2617.4,999.6 2622.2,1018.2 2626.4,1009.7 C2630.9,1000.6 2635.4,954.5 2640.0,941.9 C2642.6,934.7 2649.4,941.1 2653.5,934.6 C2658.0,927.4 2662.5,912.6 2667.0,898.8 C2671.5,884.9 2676.0,857.9 2680.5,851.5 C2685.0,845.1 2691.5,852.8 2694.1,860.4 C2698.6,873.8 2703.1,923.4 2707.6,931.4 C2712.1,939.4 2716.6,906.9 2721.1,908.4 C2725.6,909.9 2730.1,925.7 2734.6,940.3 C2739.1,955.0 2743.7,993.6 2748.2,996.3 C2752.7,998.9 2757.2,963.5 2761.7,956.3 C2765.4,950.4 2772.8,959.7 2775.2,953.1 C2779.7,940.7 2784.2,897.2 2788.7,881.9 C2792.2,870.0 2797.8,872.6 2802.3,861.1 C2806.8,849.5 2811.3,826.9 2815.8,812.5 C2820.3,798.1 2824.8,776.2 2829.3,774.9 C2833.8,773.5 2840.6,788.4 2842.8,804.6 C2847.4,836.5 2851.9,929.0 2856.4,966.4 C2860.2,998.3 2865.4,1024.1 2869.9,1029.2 C2874.4,1034.3 2878.9,1011.4 2883.4,997.0 C2887.9,982.7 2892.4,925.0 2897.0,943.1 C2901.5,961.2 2906.0,1091.3 2910.5,1105.6 C2915.0,1120.0 2919.7,1067.9 2924.0,1029.4 C2928.5,989.4 2933.0,912.0 2937.5,865.3 C2942.0,818.6 2946.5,774.6 2951.1,749.2 C2954.4,730.2 2960.1,731.3 2964.6,712.9 C2969.1,694.5 2973.6,652.4 2978.1,638.9 C2980.5,631.7 2987.1,634.5 2991.6,631.9 C2996.1,629.3 3000.7,624.4 3005.2,623.3 C3009.7,622.2 3014.2,623.5 3018.7,625.5 C3023.2,627.6 3027.7,632.6 3032.2,635.8 C3036.7,639.0 3041.2,642.4 3045.7,644.7 C3050.2,647.0 3054.8,648.4 3059.3,649.5 C3063.8,650.6 3069.2,645.3 3072.8,651.1 C3077.3,658.3 3081.8,681.0 3086.3,692.7 C3090.8,704.3 3095.3,718.1 3099.8,720.8 C3104.4,723.4 3108.9,706.8 3113.4,708.6 C3117.9,710.4 3122.4,730.6 3126.9,731.6 C3131.4,732.7 3135.9,716.4 3140.4,715.0 C3144.9,713.7 3151.2,716.1 3153.9,723.7 C3158.5,736.3 3163.0,768.7 3167.5,790.8 C3172.0,812.9 3176.5,834.4 3181.0,856.3" fill="none" stroke="#262626" stroke-width="9" stroke-linecap="round" stroke-linejoin="round"/>
<text x="944.8" y="128.9" font-size="54.2" textLength="1506.5" lengthAdjust="spacingAndGlyphs">MARGEN DE REFERENCIA DEL SECTOR LECHERO ARGENTINO</text>
<text x="1215.6" y="202.0" font-size="54.2" textLength="966.0" lengthAdjust="spacingAndGlyphs">PERÍODO: ENERO 2008 - AGOSTO 2025</text>
<text x="163.2" y="1497.8" font-size="41.9" textLength="115.0" lengthAdjust="spacingAndGlyphs">$ 0,00</text>
<text x="163.2" y="1361.7" font-size="41.9" textLength="115.0" lengthAdjust="spacingAndGlyphs">$ 0,05</text>
<text x="163.2" y="1225.5" font-size="41.9" textLength="115.0" lengthAdjust="spacingAndGlyphs">$ 0,10</text>
<text x="163.2" y="1089.4" font-size="41.9" textLength="115.0" lengthAdjust="spacingAndGlyphs">$ 0,15</text>
<text x="163.2" y="953.4" font-size="41.9" textLength="115.0" lengthAdjust="spacingAndGlyphs">$ 0,20</text>
<text x="163.2" y="817.2" font-size="41.9" textLength="115.0" lengthAdjust="spacingAndGlyphs">$ 0,25</text>
<text x="163.2" y="681.1" font-size="41.9" textLength="115.0" lengthAdjust="spacingAndGlyphs">$ 0,30</text>
<text x="163.2" y="545.0" font-size="41.9" textLength="115.0" lengthAdjust="spacingAndGlyphs">$ 0,35</text>
<text x="163.2" y="409.0" font-size="41.9" textLength="115.0" lengthAdjust="spacingAndGlyphs">$ 0,40</text>
<text x="163.2" y="272.8" font-size="41.9" textLength="115.0" lengthAdjust="spacingAndGlyphs">$ 0,45</text>
<text x="163.2" y="136.8" font-size="41.9" textLength="115.0" lengthAdjust="spacingAndGlyphs">$ 0,50</text>
<text font-size="43.5" textLength="661" lengthAdjust="spacingAndGlyphs" transform="translate(82,1158.5) rotate(-90)">USD MAYORISTA / LITRO DE LECHE</text>
<text font-size="43.4" text-anchor="end" textLength="146" lengthAdjust="spacingAndGlyphs" transform="translate(344.4,1514.3) rotate(-90)">ENE.-08</text>
<text font-size="43.4" text-anchor="end" textLength="150" lengthAdjust="spacingAndGlyphs" transform="translate(466.1,1514.3) rotate(-90)">OCT.-08</text>
<text font-size="43.4" text-anchor="end" textLength="138" lengthAdjust="spacingAndGlyphs" transform="translate(587.9,1514.3) rotate(-90)">JUL.-09</text>
<text font-size="43.4" text-anchor="end" textLength="151" lengthAdjust="spacingAndGlyphs" transform="translate(709.6,1514.3) rotate(-90)">ABR.-10</text>
<text font-size="43.4" text-anchor="end" textLength="146" lengthAdjust="spacingAndGlyphs" transform="translate(831.3,1514.3) rotate(-90)">ENE.-11</text>
<text font-size="43.4" text-anchor="end" textLength="150" lengthAdjust="spacingAndGlyphs" transform="translate(953.0,1514.3) rotate(-90)">OCT.-11</text>
<text font-size="43.4" text-anchor="end" textLength="138" lengthAdjust="spacingAndGlyphs" transform="translate(1074.8,1514.3) rotate(-90)">JUL.-12</text>
<text font-size="43.4" text-anchor="end" textLength="151" lengthAdjust="spacingAndGlyphs" transform="translate(1196.5,1514.3) rotate(-90)">ABR.-13</text>
<text font-size="43.4" text-anchor="end" textLength="146" lengthAdjust="spacingAndGlyphs" transform="translate(1318.2,1514.3) rotate(-90)">ENE.-14</text>
<text font-size="43.4" text-anchor="end" textLength="150" lengthAdjust="spacingAndGlyphs" transform="translate(1440.0,1514.3) rotate(-90)">OCT.-14</text>
<text font-size="43.4" text-anchor="end" textLength="138" lengthAdjust="spacingAndGlyphs" transform="translate(1561.7,1514.3) rotate(-90)">JUL.-15</text>
<text font-size="43.4" text-anchor="end" textLength="151" lengthAdjust="spacingAndGlyphs" transform="translate(1683.4,1514.3) rotate(-90)">ABR.-16</text>
<text font-size="43.4" text-anchor="end" textLength="146" lengthAdjust="spacingAndGlyphs" transform="translate(1805.2,1514.3) rotate(-90)">ENE.-17</text>
<text font-size="43.4" text-anchor="end" textLength="150" lengthAdjust="spacingAndGlyphs" transform="translate(1926.9,1514.3) rotate(-90)">OCT.-17</text>
<text font-size="43.4" text-anchor="end" textLength="138" lengthAdjust="spacingAndGlyphs" transform="translate(2048.6,1514.3) rotate(-90)">JUL.-18</text>
<text font-size="43.4" text-anchor="end" textLength="151" lengthAdjust="spacingAndGlyphs" transform="translate(2170.3,1514.3) rotate(-90)">ABR.-19</text>
<text font-size="43.4" text-anchor="end" textLength="146" lengthAdjust="spacingAndGlyphs" transform="translate(2292.1,1514.3) rotate(-90)">ENE.-20</text>
<text font-size="43.4" text-anchor="end" textLength="150" lengthAdjust="spacingAndGlyphs" transform="translate(2413.8,1514.3) rotate(-90)">OCT.-20</text>
<text font-size="43.4" text-anchor="end" textLength="138" lengthAdjust="spacingAndGlyphs" transform="translate(2535.5,1514.3) rotate(-90)">JUL.-21</text>
<text font-size="43.4" text-anchor="end" textLength="151" lengthAdjust="spacingAndGlyphs" transform="translate(2657.3,1514.3) rotate(-90)">ABR.-22</text>
<text font-size="43.4" text-anchor="end" textLength="146" lengthAdjust="spacingAndGlyphs" transform="translate(2779.0,1514.3) rotate(-90)">ENE.-23</text>
<text font-size="43.4" text-anchor="end" textLength="150" lengthAdjust="spacingAndGlyphs" transform="translate(2900.7,1514.3) rotate(-90)">OCT.-23</text>
<text font-size="43.4" text-anchor="end" textLength="138" lengthAdjust="spacingAndGlyphs" transform="translate(3022.5,1514.3) rotate(-90)">JUL.-24</text>
<text font-size="43.4" text-anchor="end" textLength="151" lengthAdjust="spacingAndGlyphs" transform="translate(3144.2,1514.3) rotate(-90)">ABR.-25</text>
<rect x="286" y="1739.5" width="2876" height="147.5" fill="none" stroke="#a6a6a6" stroke-width="3.3"/>
<rect x="377" y="1762" width="116" height="28" fill="#ffff66"/>
<rect x="1335" y="1762" width="117" height="28" fill="#beec8a"/>
<rect x="2293" y="1762" width="118" height="28" fill="#d2c9a1"/>
<line x1="378.5" y1="1850" x2="491.5" y2="1850" stroke="#4f81bd" stroke-width="8.5" stroke-linecap="round"/>
<line x1="1336.5" y1="1850" x2="1450.5" y2="1850" stroke="#262626" stroke-width="8.5" stroke-linecap="round"/>
<line x1="2292" y1="1850" x2="2412" y2="1850" stroke="#404040" stroke-width="4.2" stroke-dasharray="11.8 1.9"/>
<text x="505.8" y="1788.0" font-size="41.6" textLength="612.0" lengthAdjust="spacingAndGlyphs">GASTO EN CONCENTRADOS (B1)</text>
<text x="1464.6" y="1788.0" font-size="41.6" textLength="411.0" lengthAdjust="spacingAndGlyphs">GASTO EN SILAJE (B2)</text>
<text x="2422.8" y="1788.0" font-size="41.6" textLength="667.0" lengthAdjust="spacingAndGlyphs">COSTO OPORTUNIDAD TIERRA (B3)</text>
<text x="505.3" y="1862.1" font-size="41.6" textLength="452.0" lengthAdjust="spacingAndGlyphs">PRECIO DE LA LECHE (A)</text>
<text x="1463.6" y="1862.1" font-size="41.6" textLength="438.5" lengthAdjust="spacingAndGlyphs">MARGEN = A MENOS B</text>
<text x="2422.2" y="1862.1" font-size="41.6" textLength="633.0" lengthAdjust="spacingAndGlyphs">MARGEN. PROMEDIO HISTÓRICO</text>
<g opacity="0.999">
<text x="39.4" y="1995.9" font-size="34.0" textLength="283.5" lengthAdjust="spacingAndGlyphs">Fuentes de precios</text>
<text x="39.4" y="2041.2" font-size="34.0" textLength="948.2" lengthAdjust="spacingAndGlyphs">Leche: Panel 18 empresas. Dirección Nacional Láctea (Minagri)</text>
<text x="39.4" y="2085.3" font-size="34.0" textLength="1295.3" lengthAdjust="spacingAndGlyphs">Maíz y soja: Cámara arbitral de cereales. Bolsa de comercio de Rosario. Precio pizarra</text>
<text x="39.4" y="2129.4" font-size="34.0" textLength="971.8" lengthAdjust="spacingAndGlyphs">Dólar: Mayorista, tipo de cambio de referencia. BCRA Com 3500</text>
</g>
</svg></body></html>
